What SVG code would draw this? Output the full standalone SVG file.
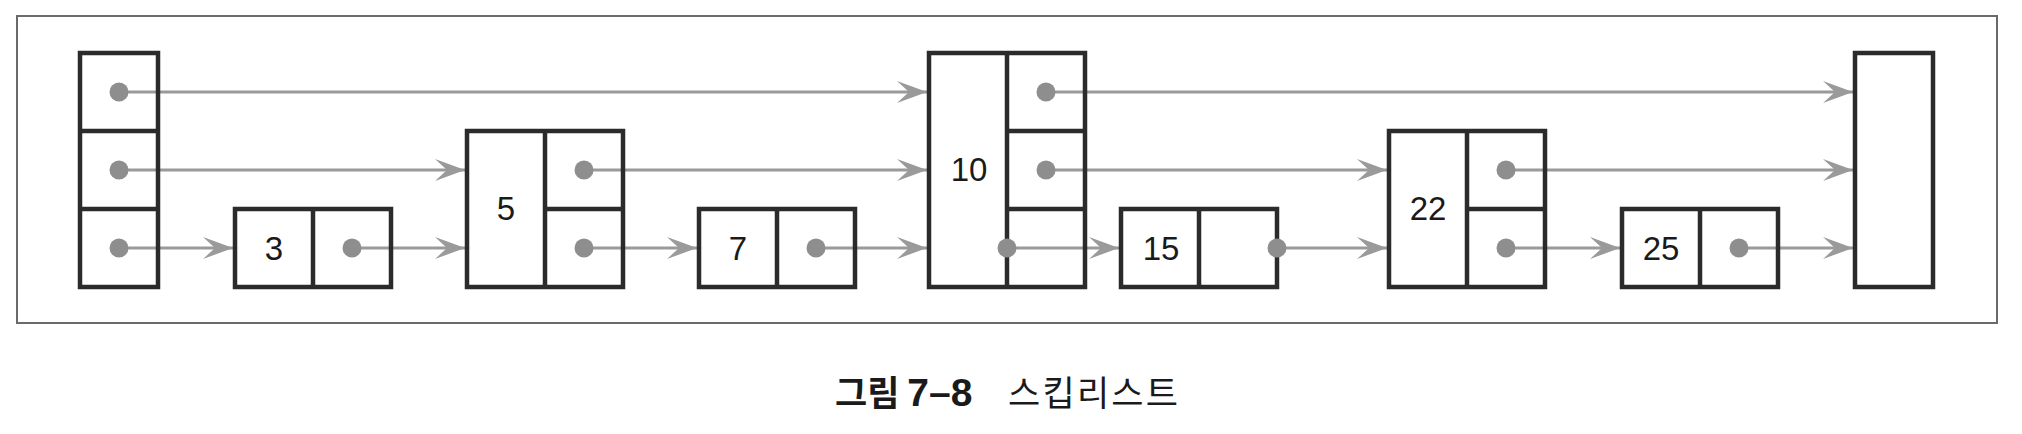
<svg xmlns="http://www.w3.org/2000/svg" width="2022" height="434" viewBox="0 0 2022 434">
<style>
.frame{fill:#ffffff;stroke:#6a6a6a;stroke-width:2}
.cell{fill:none;stroke:#2b2b2b;stroke-width:4.5}
.dot{fill:#8e8e8e}
.conn{stroke:#9a9a9a;stroke-width:3;fill:none}
.num{font-family:"Liberation Sans",Arial,sans-serif;font-size:33px;fill:#1a1a1a;text-anchor:middle}
.cap{font-family:"Noto Sans CJK KR","Noto Sans",sans-serif;font-size:35px;fill:#1a1a1a}
.lat{font-family:"Liberation Sans",Arial,"Noto Sans CJK KR",sans-serif;font-size:39px}
</style>
<defs>
<marker id="ah" markerUnits="userSpaceOnUse" markerWidth="34" markerHeight="26" viewBox="-32 -13 34 26" refX="0" refY="0" orient="auto">
<path d="M0,0 L-30,-11 L-18,0 L-30,11 Z" fill="#9a9a9a"/>
</marker>
</defs>
<rect class="frame" x="17" y="16" width="1980" height="307"/>
<g id="connectors" class="conn">
<line x1="119" y1="92" x2="927" y2="92" marker-end="url(#ah)"/>
<line x1="1046" y1="92" x2="1853" y2="92" marker-end="url(#ah)"/>
<line x1="119" y1="170" x2="465" y2="170" marker-end="url(#ah)"/>
<line x1="584" y1="170" x2="927" y2="170" marker-end="url(#ah)"/>
<line x1="1046" y1="170" x2="1387" y2="170" marker-end="url(#ah)"/>
<line x1="1506" y1="170" x2="1853" y2="170" marker-end="url(#ah)"/>
<line x1="119" y1="248" x2="233" y2="248" marker-end="url(#ah)"/>
<line x1="352" y1="248" x2="465" y2="248" marker-end="url(#ah)"/>
<line x1="584" y1="248" x2="697" y2="248" marker-end="url(#ah)"/>
<line x1="816" y1="248" x2="927" y2="248" marker-end="url(#ah)"/>
<line x1="1007" y1="248" x2="1119" y2="248" marker-end="url(#ah)"/>
<line x1="1277" y1="248" x2="1387" y2="248" marker-end="url(#ah)"/>
<line x1="1506" y1="248" x2="1620" y2="248" marker-end="url(#ah)"/>
<line x1="1739" y1="248" x2="1853" y2="248" marker-end="url(#ah)"/>
</g>
<g id="head">
<rect class="cell" x="80" y="53" width="78" height="234"/>
<line class="cell" x1="80" y1="131" x2="158" y2="131"/>
<line class="cell" x1="80" y1="209" x2="158" y2="209"/>
<circle class="dot" cx="119" cy="92" r="9.5"/>
<circle class="dot" cx="119" cy="170" r="9.5"/>
<circle class="dot" cx="119" cy="248" r="9.5"/>
</g>
<g id="node3">
<rect class="cell" x="235" y="209" width="156" height="78"/>
<line class="cell" x1="313" y1="209" x2="313" y2="287"/>
<text class="num" x="274" y="260">3</text>
<circle class="dot" cx="352" cy="248" r="9.5"/>
</g>
<g id="node5">
<rect class="cell" x="467" y="131" width="156" height="156"/>
<line class="cell" x1="545" y1="131" x2="545" y2="287"/>
<line class="cell" x1="545" y1="209" x2="623" y2="209"/>
<text class="num" x="506" y="220">5</text>
<circle class="dot" cx="584" cy="170" r="9.5"/>
<circle class="dot" cx="584" cy="248" r="9.5"/>
</g>
<g id="node7">
<rect class="cell" x="699" y="209" width="156" height="78"/>
<line class="cell" x1="777" y1="209" x2="777" y2="287"/>
<text class="num" x="738" y="260">7</text>
<circle class="dot" cx="816" cy="248" r="9.5"/>
</g>
<g id="node10">
<rect class="cell" x="929" y="53" width="156" height="234"/>
<line class="cell" x1="1007" y1="53" x2="1007" y2="287"/>
<line class="cell" x1="1007" y1="131" x2="1085" y2="131"/>
<line class="cell" x1="1007" y1="209" x2="1085" y2="209"/>
<text class="num" x="969" y="181">10</text>
<circle class="dot" cx="1046" cy="92" r="9.5"/>
<circle class="dot" cx="1046" cy="170" r="9.5"/>
<circle class="dot" cx="1007" cy="248" r="9.5"/>
</g>
<g id="node15">
<rect class="cell" x="1121" y="209" width="156" height="78"/>
<line class="cell" x1="1199" y1="209" x2="1199" y2="287"/>
<text class="num" x="1161" y="260">15</text>
<circle class="dot" cx="1277" cy="248" r="9.5"/>
</g>
<g id="node22">
<rect class="cell" x="1389" y="131" width="156" height="156"/>
<line class="cell" x1="1467" y1="131" x2="1467" y2="287"/>
<line class="cell" x1="1467" y1="209" x2="1545" y2="209"/>
<text class="num" x="1428" y="220">22</text>
<circle class="dot" cx="1506" cy="170" r="9.5"/>
<circle class="dot" cx="1506" cy="248" r="9.5"/>
</g>
<g id="node25">
<rect class="cell" x="1622" y="209" width="156" height="78"/>
<line class="cell" x1="1700" y1="209" x2="1700" y2="287"/>
<text class="num" x="1661" y="260">25</text>
<circle class="dot" cx="1739" cy="248" r="9.5"/>
</g>
<g id="tail">
<rect class="cell" x="1855" y="53" width="78" height="234"/>
</g>
<g id="caption">
<text class="cap" x="835" y="406" font-weight="bold">그림 <tspan class="lat">7–8</tspan></text>
<text class="cap" x="1008" y="406" textLength="170" lengthAdjust="spacing">스킵리스트</text>
</g>
</svg>
